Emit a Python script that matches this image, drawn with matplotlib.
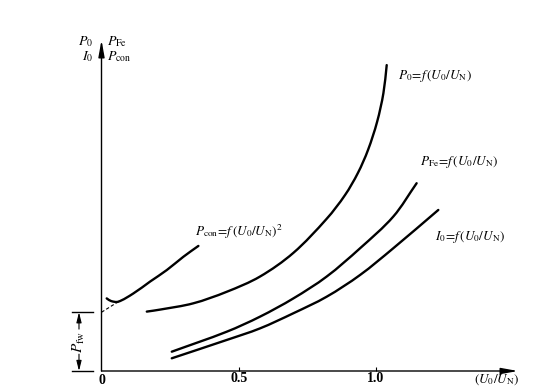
import numpy as np
import matplotlib
matplotlib.use('Agg')
import matplotlib.pyplot as plt
from matplotlib.path import Path
from matplotlib.patches import PathPatch

# (x = U0/UN, y in arbitrary units)
p0_x = [0.165, 0.213, 0.334, 0.456, 0.577, 0.699, 0.820, 0.887, 0.934, 0.971, 1.004, 1.027, 1.039]
p0_y = [1.80, 1.86, 2.05, 2.40, 2.86, 3.58, 4.61, 5.33, 6.00, 6.70, 7.55, 8.42, 9.27]

pcon_x = [0.019, 0.035, 0.061, 0.116, 0.177, 0.238, 0.298, 0.353]
pcon_y = [2.20, 2.12, 2.10, 2.35, 2.71, 3.06, 3.46, 3.79]

pfe_x = [0.256, 0.456, 0.577, 0.699, 0.820, 0.942, 1.063, 1.148]
pfe_y = [0.585, 1.19, 1.645, 2.20, 2.86, 3.72, 4.68, 5.69]

i0_x = [0.256, 0.456, 0.577, 0.699, 0.820, 0.942, 1.063, 1.227]
i0_y = [0.385, 0.94, 1.29, 1.75, 2.25, 2.91, 3.72, 4.88]

p_fw = 1.78
xticks = [0.5, 1.0]
xtick_labels = ['0.5', '1.0']

plt.rcParams['font.family'] = 'Liberation Serif'
plt.rcParams['mathtext.fontset'] = 'stix'

W, H = 553, 389
x0_px, x1_px = 101.5, 518
y0_px, y1_px = 371, 40
x_unit = 274.5
y_unit = 33.0


def smooth_path(xs, ys):
    """Chord-length Catmull-Rom through the read points, as cubic Bezier segments."""
    pts = np.column_stack([xs, ys]).astype(float)
    scale = np.array([x_unit, y_unit])
    d = np.linalg.norm(np.diff(pts * scale, axis=0), axis=1)
    t = np.concatenate([[0], np.cumsum(d)])
    n = len(pts)
    m = np.zeros_like(pts)
    for i in range(n):
        a, b = max(i - 1, 0), min(i + 1, n - 1)
        m[i] = (pts[b] - pts[a]) / (t[b] - t[a])
    verts = [pts[0]]
    codes = [Path.MOVETO]
    for i in range(n - 1):
        h = t[i + 1] - t[i]
        verts += [pts[i] + m[i] * h / 3, pts[i + 1] - m[i + 1] * h / 3, pts[i + 1]]
        codes += [Path.CURVE4] * 3
    return Path(verts, codes)


fig = plt.figure(figsize=(5.53, 3.89), dpi=100)
ax = fig.add_axes([x0_px / W, (H - y0_px) / H, (x1_px - x0_px) / W, (y0_px - y1_px) / H])
xmax = (x1_px - x0_px) / x_unit
ymax = (y0_px - y1_px) / y_unit
ax.set_xlim(0, xmax)
ax.set_ylim(0, ymax)
for s in ax.spines.values():
    s.set_visible(False)

# Axes with arrow heads
arrow = dict(arrowstyle='-|>,head_length=1.0,head_width=0.18', color='black', lw=1.0,
             shrinkA=0, shrinkB=0)
ax.annotate('', xy=(xmax, 0), xytext=(0, 0), arrowprops=arrow, annotation_clip=False)
ax.annotate('', xy=(0, ymax), xytext=(0, 0), arrowprops=arrow, annotation_clip=False)

# Curves
lw = 1.7
for xs, ys in [(p0_x, p0_y), (pcon_x, pcon_y), (pfe_x, pfe_y), (i0_x, i0_y)]:
    ax.add_patch(PathPatch(smooth_path(xs, ys), fill=False, edgecolor='black', lw=lw,
                           capstyle='round'))
ax.plot([0, pcon_x[2]], [p_fw, pcon_y[2]], color='black', lw=0.8, ls=(0, (3, 2)))

# Ticks
ax.set_xticks(xticks)
ax.set_xticklabels(xtick_labels, fontweight='bold', fontsize=10)
ax.tick_params(axis='x', direction='in', length=3, width=0.8, pad=1)
ax.set_yticks([])
ax.text(0, -0.08, '0', ha='center', va='top', fontsize=10, fontweight='bold')
ax.text(xmax + 0.005, -0.05, r'$(U_0/U_\mathrm{N})$', ha='right', va='top', fontsize=9.5)

# Axis labels at top of y axis
fs = 9.5
ax.text(-0.03, ymax - 0.05, r'$P_0$', ha='right', va='center', fontsize=10)
ax.text(-0.03, ymax - 0.5, r'$I_0$', ha='right', va='center', fontsize=10)
ax.text(0.02, ymax - 0.05, r'$P_\mathrm{Fe}$', ha='left', va='center', fontsize=10)
ax.text(0.02, ymax - 0.5, r'$P_\mathrm{con}$', ha='left', va='center', fontsize=10)

# Curve labels
ax.text(1.08, 8.95, r'$P_0\!=\!f\,(U_0/U_\mathrm{N})$', ha='left', va='center', fontsize=fs)
ax.text(1.16, 6.33, r'$P_\mathrm{Fe}\!=\!f\,(U_0/U_\mathrm{N})$', ha='left', va='center', fontsize=fs)
ax.text(1.215, 4.05, r'$I_0\!=\!f\,(U_0/U_\mathrm{N})$', ha='left', va='center', fontsize=fs)
ax.text(0.34, 4.2, r'$P_\mathrm{con}\!=\!f\,(U_0/U_\mathrm{N})^2$', ha='left', va='center', fontsize=fs)

# P_fw dimension bracket left of the y axis
bx = -0.082
ax.plot([-0.107, -0.031], [p_fw, p_fw], color='black', lw=1.0, clip_on=False)
ax.plot([-0.107, -0.031], [0, 0], color='black', lw=1.0, clip_on=False)
darrow = dict(arrowstyle='-|>,head_length=0.6,head_width=0.15', color='black', lw=0.8,
              shrinkA=0, shrinkB=0)
ax.annotate('', xy=(bx, p_fw), xytext=(bx, p_fw / 2 + 0.38), arrowprops=darrow,
            annotation_clip=False)
ax.annotate('', xy=(bx, 0), xytext=(bx, p_fw / 2 - 0.38), arrowprops=darrow,
            annotation_clip=False)
ax.text(bx, p_fw / 2, r'$P_\mathrm{fw}$', rotation=90, ha='center', va='center',
        fontsize=11, clip_on=False)

fig.savefig('out.png', dpi=100)
